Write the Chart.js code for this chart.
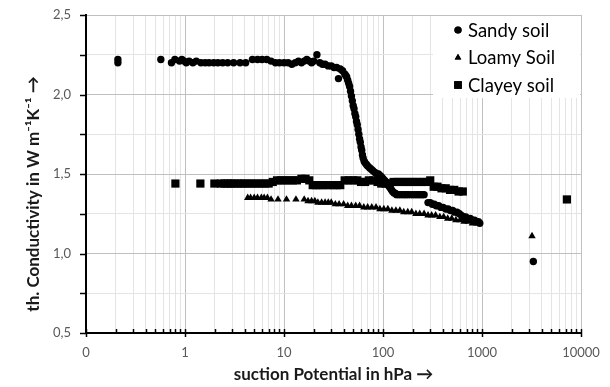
<!DOCTYPE html>
<html><head><meta charset="utf-8">
<script src="https://cdn.jsdelivr.net/npm/chart.js@4/dist/chart.umd.min.js"></script>
<style>html,body{margin:0;padding:0;background:#fff;}#wrap{width:610px;height:387px;position:relative;}</style>
</head><body><div id="wrap"><canvas id="c" width="610" height="387"></canvas></div>
<script>
const seriesNames = ['Sandy soil', 'Loamy Soil', 'Clayey soil'];

const sandyX = [0.21,0.21,0.57,0.73,0.79,0.88,0.93,0.98,1.03,1.1,1.2,1.3,1.45,1.6,1.75,1.95,2.15,2.4,2.7,3.1,3.6,4.1,4.8,5.4,6.0,6.7,7.4,8.2,9.0,10,11,12,13,14,15,16,17,18,19,20,21.5,23,24.5,26,28,30,32,34,35.5,37,39,41,42,43,44,45,46,47,48,49,50,51,52,53,54,55,56,57,58,59,60,61,62,63,64.5,66,68,70,73,76,79,83,87,90,94,97,100,104,107,110,113,116,119,122,125,129,133,137,143,150,158,165,172,180,190,200,210,220,230,240,250,260,285,300,315,330,345,365,385,405,430,455,480,505,530,560,590,620,650,685,720,760,800,840,880,920,950,3300];
const sandyY = [2.22,2.20,2.22,2.20,2.22,2.21,2.22,2.21,2.20,2.21,2.20,2.21,2.20,2.20,2.20,2.20,2.20,2.20,2.20,2.20,2.20,2.20,2.22,2.22,2.22,2.22,2.21,2.20,2.20,2.20,2.20,2.19,2.20,2.21,2.20,2.21,2.22,2.21,2.20,2.21,2.25,2.20,2.19,2.19,2.18,2.18,2.17,2.17,2.10,2.16,2.15,2.13,2.12,2.11,2.09,2.07,2.05,2.02,1.99,1.96,1.93,1.91,1.88,1.86,1.83,1.81,1.78,1.75,1.72,1.70,1.67,1.65,1.62,1.60,1.58,1.57,1.56,1.55,1.54,1.53,1.52,1.51,1.50,1.50,1.49,1.48,1.47,1.46,1.45,1.44,1.43,1.42,1.41,1.40,1.39,1.38,1.38,1.37,1.37,1.37,1.37,1.37,1.37,1.37,1.37,1.37,1.37,1.37,1.37,1.37,1.37,1.37,1.32,1.32,1.31,1.31,1.30,1.30,1.29,1.29,1.28,1.28,1.27,1.27,1.26,1.26,1.25,1.24,1.23,1.23,1.22,1.22,1.21,1.21,1.20,1.20,1.19,0.95];

const loamyX = [4.3,4.6,5.0,5.4,5.9,6.3,6.8,7.4,8.7,10.6,13.2,16,17.5,19,20.5,22,24,26,28,30,33,36,40,44,48,53,58,64,70,77,85,93,102,112,123,135,148,162,178,195,215,235,260,285,310,340,375,410,450,495,545,600,660,725,800,880,3200];
const loamyY = [1.35,1.35,1.35,1.35,1.35,1.35,1.35,1.34,1.34,1.34,1.34,1.34,1.33,1.33,1.33,1.32,1.32,1.32,1.32,1.32,1.31,1.31,1.31,1.30,1.30,1.30,1.30,1.29,1.29,1.29,1.29,1.28,1.28,1.28,1.27,1.27,1.27,1.26,1.26,1.26,1.25,1.25,1.25,1.24,1.24,1.24,1.23,1.23,1.22,1.22,1.21,1.21,1.20,1.20,1.19,1.19,1.11];

const clayeyX = [0.8,1.43,1.98,2.3,2.5,2.7,2.9,3.1,3.4,3.7,4.0,4.4,4.8,5.3,5.8,6.4,7.0,7.7,8.5,9.3,10.2,11.2,12.3,13.5,15,16.5,18,19.5,21,23,25,28,31,34,37,41,45,50,55,60,66,72,80,88,96,106,116,128,140,155,170,188,205,225,250,275,300,325,355,390,430,475,525,580,640,7200];
const clayeyY = [1.44,1.44,1.44,1.44,1.44,1.44,1.44,1.44,1.44,1.44,1.44,1.44,1.44,1.44,1.44,1.44,1.44,1.45,1.46,1.46,1.46,1.46,1.46,1.46,1.47,1.47,1.46,1.43,1.43,1.43,1.43,1.43,1.43,1.43,1.43,1.46,1.46,1.46,1.46,1.45,1.45,1.46,1.46,1.45,1.44,1.44,1.44,1.45,1.45,1.45,1.45,1.45,1.45,1.45,1.45,1.45,1.46,1.42,1.42,1.41,1.41,1.40,1.40,1.39,1.39,1.34];

const xTickValues = [0.1, 1, 10, 100, 1000, 10000];
const xTickText = ['0', '1', '10', '100', '1000', '10000'];
const yTickValues = [0.5, 1.0, 1.5, 2.0, 2.5];
const yTickText = ['0,5', '1,0', '1,5', '2,0', '2,5'];

const xTitle = 'suction Potential in hPa \u2192';
const yTitle = 'th. Conductivity in W m\u207B\u00B9K\u207B\u00B9 \u2192';

function pts(xs, ys) { return xs.map((x, i) => ({ x: x, y: ys[i] })); }
function isDecade(v) { const l = Math.log10(v); return Math.abs(l - Math.round(l)) < 1e-9; }
function isHalf(v) { return Math.abs(v * 2 - Math.round(v * 2)) < 1e-9; }

const styles = [
  { pointStyle: 'circle', radius: 3.7 },
  { pointStyle: 'triangle', radius: 4.3 },
  { pointStyle: 'rect', radius: 5.8 }
];
const legendStyles = [
  { pointStyle: 'circle', radius: 3.6 },
  { pointStyle: 'triangle', radius: 3.8 },
  { pointStyle: 'rect', radius: 5.4 }
];

const decor = {
  id: 'decor',
  afterDraw(chart) {
    const ctx = chart.ctx, xs = chart.scales.x, ys = chart.scales.y, a = chart.chartArea;
    ctx.save();
    ctx.strokeStyle = '#000';
    ctx.lineWidth = 1.5;
    ys.ticks.forEach(t => {
      const py = Math.round(ys.getPixelForValue(t.value)) + 0.5;
      ctx.beginPath(); ctx.moveTo(a.left - 6, py); ctx.lineTo(a.left, py); ctx.stroke();
    });
    xs.ticks.forEach(t => {
      const px = Math.round(xs.getPixelForValue(t.value)) + 0.5;
      const major = isDecade(t.value);
      ctx.beginPath(); ctx.moveTo(px, a.bottom - 4); ctx.lineTo(px, a.bottom + (major ? 4 : 0)); ctx.stroke();
    });
    // legend
    ctx.fillStyle = '#fff';
    ctx.fillRect(433, a.top + 1, a.right - 434, 82);
    ctx.font = '18.5px Lato';
    ctx.textBaseline = 'middle';
    ctx.textAlign = 'left';
    const rows = [30, 57.5, 85];
    seriesNames.forEach((n, i) => {
      ctx.fillStyle = '#000';
      Chart.helpers.drawPoint(ctx, { pointStyle: legendStyles[i].pointStyle, radius: legendStyles[i].radius, rotation: 0, borderWidth: 0 }, 458, rows[i]);
      ctx.fill();
      ctx.fillStyle = '#000';
      ctx.fillText(n, 468, rows[i] + 1);
    });
    // y title
    ctx.translate(34, 194);
    ctx.rotate(-Math.PI / 2);
    ctx.font = 'bold 17px Lato';
    ctx.textAlign = 'center';
    ctx.fillStyle = '#1a1a1a';
    ctx.fillText(yTitle, 0, 0);
    ctx.restore();
  }
};

const datasets = [pts(sandyX, sandyY), pts(loamyX, loamyY), pts(clayeyX, clayeyY)].map((d, i) => ({
  label: seriesNames[i],
  data: d,
  pointStyle: styles[i].pointStyle,
  pointRadius: styles[i].radius,
  pointBackgroundColor: '#000',
  pointBorderColor: '#000',
  pointBorderWidth: 0,
  showLine: false
}));

new Chart(document.getElementById('c'), {
  type: 'scatter',
  data: { datasets: datasets },
  options: {
    responsive: false,
    animation: false,
    devicePixelRatio: 1,
    layout: { padding: { left: 0, top: 15, right: 29, bottom: 0 } },
    plugins: { legend: { display: false }, tooltip: { enabled: false } },
    scales: {
      x: {
        type: 'logarithmic',
        min: xTickValues[0],
        max: xTickValues[xTickValues.length - 1],
        afterBuildTicks(scale) {
          const t = [];
          for (let d = 0; d < xTickValues.length - 1; d++) {
            for (let m = 1; m <= 9; m++) t.push({ value: xTickValues[d] * m });
          }
          t.push({ value: xTickValues[xTickValues.length - 1] });
          scale.ticks = t;
        },
        afterFit(scale) { scale.height = 54; scale.paddingLeft = 0; scale.paddingRight = 0; },
        border: { display: true, color: '#000', width: 2 },
        grid: {
          drawTicks: false,
          lineWidth: 1,
          color: ctx => (ctx.tick && isDecade(ctx.tick.value)) ? '#c0c0c0' : '#e4e4e4'
        },
        ticks: {
          autoSkip: false, maxRotation: 0, minRotation: 0, padding: 12,
          color: '#595959', font: { family: 'Lato', size: 13 },
          callback: (v) => {
            const k = xTickValues.findIndex(u => Math.abs(u - v) / u < 1e-9);
            return k >= 0 ? xTickText[k] : '';
          }
        },
        title: { display: true, text: xTitle, color: '#1a1a1a', font: { family: 'Lato', size: 17, weight: 'bold' }, padding: { top: 0, bottom: 2 } }
      },
      y: {
        type: 'linear',
        min: yTickValues[0],
        max: yTickValues[yTickValues.length - 1],
        ticks: {
          stepSize: 0.25, padding: 15,
          color: '#595959', font: { family: 'Lato', size: 13 },
          callback: (v) => {
            const k = yTickValues.findIndex(u => Math.abs(u - v) < 1e-9);
            return k >= 0 ? yTickText[k] : '';
          }
        },
        afterFit(scale) { scale.width = 86; scale.paddingTop = 0; scale.paddingBottom = 0; },
        border: { display: true, color: '#000', width: 2 },
        grid: {
          drawTicks: false,
          lineWidth: 1,
          color: ctx => (ctx.tick && isHalf(ctx.tick.value)) ? '#c0c0c0' : '#e4e4e4'
        }
      }
    }
  },
  plugins: [decor]
});
</script></body></html>
